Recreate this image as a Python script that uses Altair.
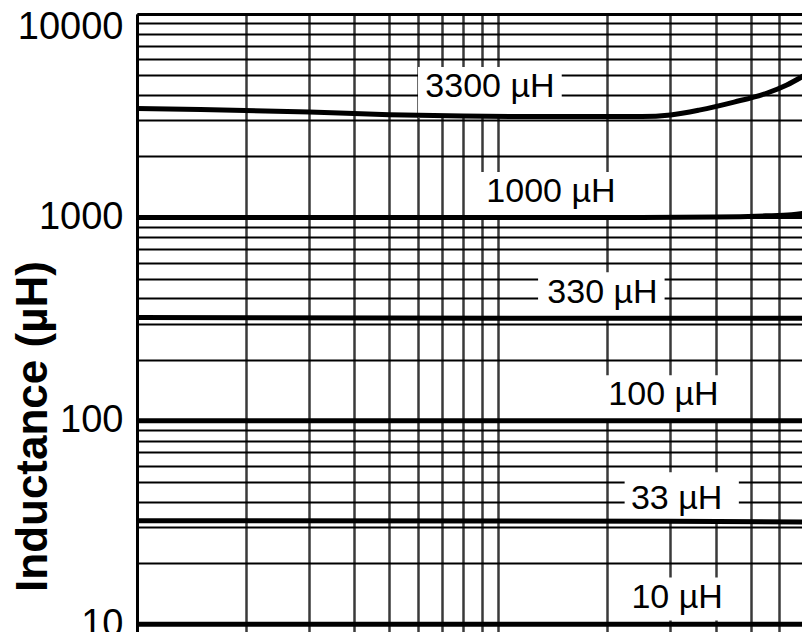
import altair as alt
import pandas as pd

# ---- curve data (frequency, inductance in µH) ----
freq_3300 = [1, 1.5, 3, 5, 8, 15, 25, 30, 36, 45, 55.6, 63, 73]
ind_3300 = [3430, 3390, 3300, 3200, 3150, 3130, 3130, 3190, 3370, 3690, 4090, 4480, 5180]

freq_1000 = [1, 20, 40, 55, 65, 73]
ind_1000 = [1000, 1000, 1005, 1018, 1032, 1055]

freq_330 = [1, 5, 30, 73]
ind_330 = [322, 320, 319, 319]

freq_100 = [1, 73]
ind_100 = [100, 100]

freq_33 = [1, 30, 73]
ind_33 = [32.3, 32.1, 31.8]

freq_10 = [1, 73]
ind_10 = [10, 10]

# ---- curve labels (centre of text, and extent of the white box behind it) ----
label_text = ["3300 µH", "1000 µH", "330 µH", "100 µH", "33 µH", "10 µH"]
label_f = [9.49, 14.0, 19.45, 28.7, 31.2, 31.3]
label_L = [4374, 1339, 427, 134.4, 41.4, 13.4]
box_f0 = [6.0, 8.8, 12.9, 19.1, 22.4, 22.6]
box_f1 = [15.0, 22.0, 28.9, 42.7, 46.4, 43.8]
box_L0 = [3078, 1026, 327, 101.8, 32.8, 10.45]
box_L1 = [5487, 1670, 538, 167.6, 55.9, 17.0]

# ---- axis tick values ----
y_ticks = [10, 20, 30, 40, 50, 60, 70, 80, 90,
           100, 200, 300, 400, 500, 600, 700, 800, 900,
           1000, 2000, 3000, 4000, 5000, 6000, 7000, 8000, 9000, 10000]
y_labelled = [10, 100, 1000, 10000]
x_ticks = [1, 2, 3, 4, 5, 6, 7, 8, 9, 10, 20, 30, 40, 50, 60, 70]

series = [("3300", freq_3300, ind_3300), ("1000", freq_1000, ind_1000),
          ("330", freq_330, ind_330), ("100", freq_100, ind_100),
          ("33", freq_33, ind_33), ("10", freq_10, ind_10)]
rows = []
for name, fs, ls in series:
    for f, l in zip(fs, ls):
        rows.append({"series": name, "f": f, "L": l})
curves = pd.DataFrame(rows)

labels = pd.DataFrame({"text": label_text, "f": label_f, "L": label_L,
                       "f0": box_f0, "f1": box_f1, "L0": box_L0, "L1": box_L1})

FONT = "Liberation Sans"
lab_list = ",".join(str(v) for v in y_labelled)

x_scale = alt.Scale(type="log", domain=[1, 69.4], nice=False)
y_scale = alt.Scale(type="log", domain=[8, 10000], nice=False)

x_axis = alt.Axis(orient="top", values=x_ticks, grid=True, gridColor="#3a3a3a",
                  gridWidth=2.5, labels=False, ticks=False, domain=True,
                  domainColor="black", domainWidth=2.6, title=None)
y_axis = alt.Axis(values=y_ticks, grid=True, gridColor="black",
                  gridWidth={"condition": {"test": f"indexof([{lab_list}], datum.value) >= 0", "value": 3},
                             "value": 1.8},
                  ticks=False, domain=True, domainColor="black", domainWidth=3,
                  labelExpr=f"indexof([{lab_list}], datum.value) >= 0 ? format(datum.value, 'd') : ''",
                  labelFont=FONT, labelFontSize=38, labelColor="black", labelPadding=14,
                  labelFlush=True, labelFlushOffset=6, labelOverlap=False, labelBound=False,
                  title="Inductance (µH)", titleFont=FONT, titleFontSize=44,
                  titleFontWeight="bold", titleColor="black", titleAngle=270,
                  titleAlign="center", titleBaseline="alphabetic", titleX=-91, titleY=412)

boxes = alt.Chart(labels).mark_rect(color="white", opacity=1).encode(
    x=alt.X("f0:Q", scale=x_scale, axis=x_axis),
    x2="f1:Q",
    y=alt.Y("L0:Q", scale=y_scale, axis=y_axis),
    y2="L1:Q",
)

lines = alt.Chart(curves).mark_line(color="black", strokeWidth=5, interpolate="monotone",
                                    clip=True).encode(
    x=alt.X("f:Q", scale=x_scale, axis=x_axis),
    y=alt.Y("L:Q", scale=y_scale, axis=y_axis),
    detail="series:N",
)

texts = alt.Chart(labels).mark_text(font=FONT, fontSize=34, color="black",
                                    align="center", baseline="middle").encode(
    x=alt.X("f:Q", scale=x_scale, axis=x_axis),
    y=alt.Y("L:Q", scale=y_scale, axis=y_axis),
    text="text:N",
)

chart = alt.layer(boxes, lines, texts).properties(
    width=665, height=630,
    autosize=alt.AutoSizeParams(type="none"),
    padding={"left": 129, "top": 6, "right": 0, "bottom": 0},
    background="white",
).configure_view(stroke=None)

chart.save("out.html", embed_options={"renderer": "svg", "actions": False})
